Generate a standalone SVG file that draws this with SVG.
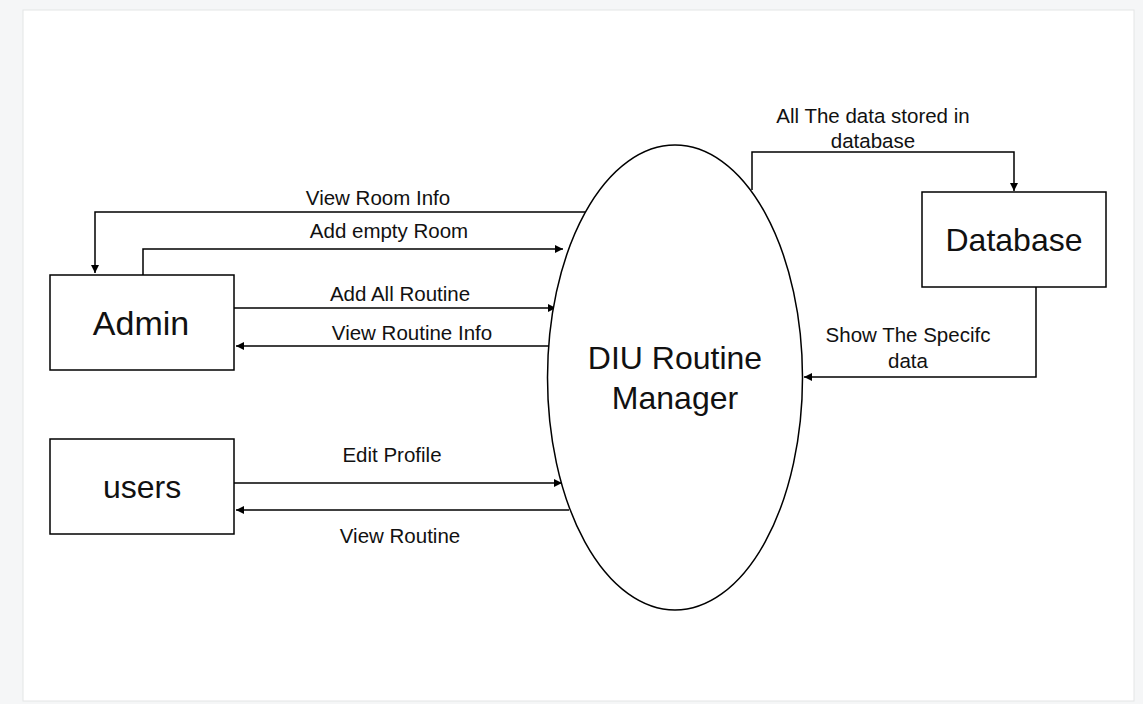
<svg xmlns="http://www.w3.org/2000/svg" width="1143" height="704" viewBox="0 0 1143 704">
<style>
.box{fill:#fff;stroke:#000;stroke-width:1.5}
.big{font-family:"Liberation Sans",Arial,sans-serif;font-size:32px;fill:#111;text-anchor:middle}
.lbl{font-family:"Liberation Sans",Arial,sans-serif;font-size:20.5px;fill:#111;text-anchor:middle}
.edge{fill:none;stroke:#000;stroke-width:1.5}
</style>
<defs>
<marker id="ah" viewBox="0 0 10 10" refX="10" refY="5" markerWidth="8" markerHeight="8" markerUnits="userSpaceOnUse" orient="auto">
<path d="M0,0 L10,5 L0,10 z" fill="#000"/>
</marker>
</defs>
<rect x="0" y="0" width="1143" height="704" fill="#f5f6f7"/>
<rect x="23" y="10" width="1111" height="691" fill="#fff" stroke="#e4e5e6" stroke-width="1"/>
<g id="connectors">
<path class="edge" d="M586,212 H95 V273" marker-end="url(#ah)"/>
<path class="edge" d="M143,275 V249 H563" marker-end="url(#ah)"/>
<path class="edge" d="M234,308 H556" marker-end="url(#ah)"/>
<path class="edge" d="M549,346 H236" marker-end="url(#ah)"/>
<path class="edge" d="M234,483 H562" marker-end="url(#ah)"/>
<path class="edge" d="M569,510 H236" marker-end="url(#ah)"/>
<path class="edge" d="M752,190 V152 H1014 V191" marker-end="url(#ah)"/>
<path class="edge" d="M1036,287 V377 H804" marker-end="url(#ah)"/>
<text class="lbl" x="378" y="205">View Room Info</text>
<text class="lbl" x="389" y="238">Add empty Room</text>
<text class="lbl" x="400" y="301">Add All Routine</text>
<text class="lbl" x="412" y="340">View Routine Info</text>
<text class="lbl" x="392" y="462">Edit Profile</text>
<text class="lbl" x="400" y="543">View Routine</text>
<text class="lbl" x="873" y="123">All The data stored in</text>
<text class="lbl" x="873" y="148">database</text>
<text class="lbl" x="908" y="342">Show The Specifc</text>
<text class="lbl" x="908" y="368">data</text>
</g>
<g id="manager">
<ellipse class="box" cx="675" cy="377.5" rx="127.5" ry="232.5"/>
<text class="big" x="675" y="369">DIU Routine</text>
<text class="big" x="675" y="409">Manager</text>
</g>
<g id="admin">
<rect class="box" x="50" y="275" width="184" height="95"/>
<text class="big" x="141" y="335" style="font-size:34px">Admin</text>
</g>
<g id="users">
<rect class="box" x="50" y="439" width="184" height="95"/>
<text class="big" x="142" y="498">users</text>
</g>
<g id="database">
<rect class="box" x="922" y="192" width="184" height="95"/>
<text class="big" x="1014" y="251">Database</text>
</g>
</svg>
